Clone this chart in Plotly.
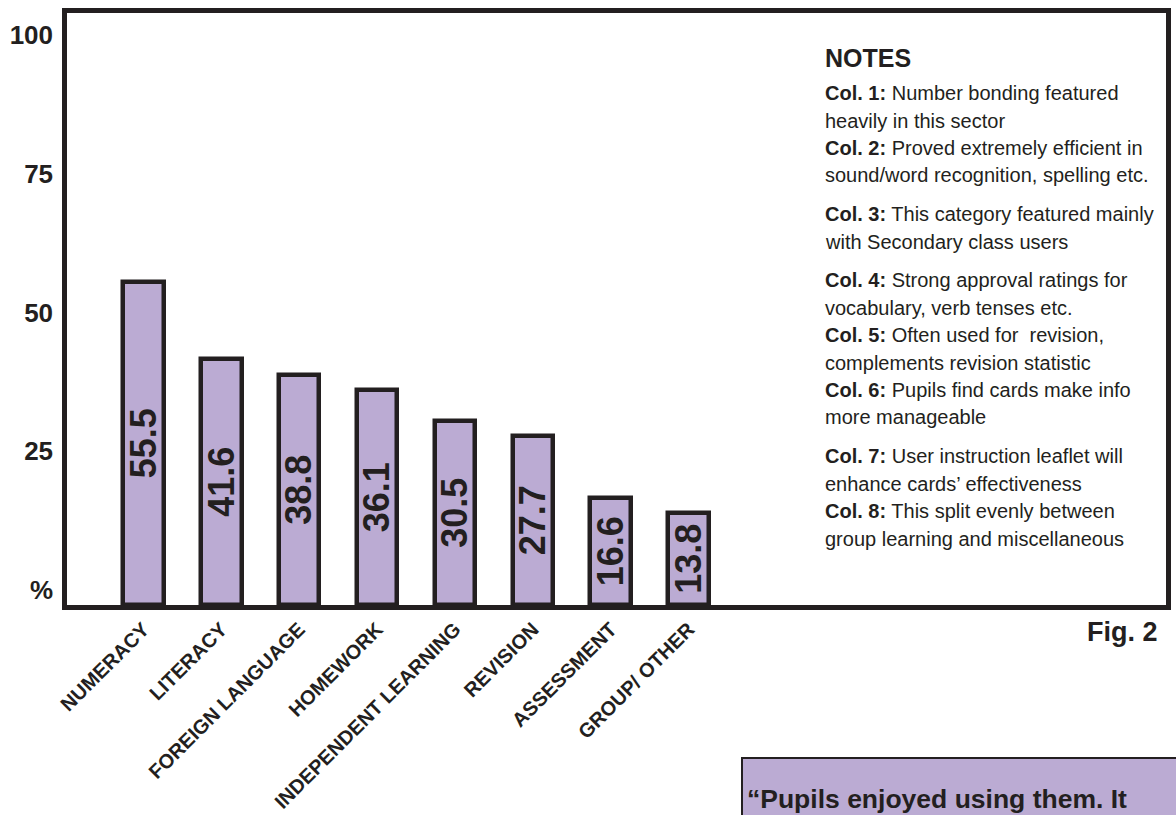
import plotly.graph_objects as go

# ---------------- data ----------------
categories = ["NUMERACY", "LITERACY", "FOREIGN LANGUAGE", "HOMEWORK",
              "INDEPENDENT LEARNING", "REVISION", "ASSESSMENT", "GROUP/ OTHER"]
values = [55.5, 41.6, 38.8, 36.1, 30.5, 27.7, 16.6, 13.8]
y_tickvals = [0, 25, 50, 75, 100]
y_ticktext = ["%", "25", "50", "75", "100"]

notes_title = "NOTES"
notes = [
    ("Col. 1:", "Number bonding featured", "heavily in this sector"),
    ("Col. 2:", "Proved extremely efficient in", "sound/word recognition, spelling etc."),
    ("Col. 3:", "This category featured mainly", "with Secondary class users"),
    ("Col. 4:", "Strong approval ratings for", "vocabulary, verb tenses etc."),
    ("Col. 5:", "Often used for  revision,", "complements revision statistic"),
    ("Col. 6:", "Pupils find cards make info", "more manageable"),
    ("Col. 7:", "User instruction leaflet will", "enhance cards\u2019 effectiveness"),
    ("Col. 8:", "This split evenly between", "group learning and miscellaneous"),
]
notes_extra_gap = [False, False, True, True, False, False, True, False]
fig_label = "Fig. 2"
quote_text = "\u201cPupils enjoyed using them. It"

# ---------------- style ----------------
W, H = 1176, 815
ML, MR, MT, MB = 67, 10, 13, 210
PW, PH = W - ML - MR, H - MT - MB
INK = "#231F20"
LAV = "#BBABD3"
FONT = "Liberation Sans, Arial, sans-serif"
AXIS_MIN, AXIS_MAX = -2.7, 104
X_RANGE = [-0.982, 13.13]


def pxx(p):
    return (p - ML) / PW


def pxy(p):
    return (H - MB - p) / PH


fig = go.Figure()
fig.add_bar(
    x=categories,
    y=[v - AXIS_MIN for v in values],
    base=AXIS_MIN,
    text=[f"{v:.1f}" for v in values],
    textposition="inside",
    insidetextanchor="middle",
    textangle=-90,
    textfont=dict(family=FONT, size=36, color=INK, weight="bold"),
    marker=dict(color=LAV, line=dict(color=INK, width=4.5)),
    width=0.52,
    hoverinfo="skip",
)

annotations = []
annotations.append(dict(
    x=pxx(823), y=pxy(58), xref="paper", yref="paper", xanchor="left", yanchor="middle",
    text=f"<b>{notes_title}</b>", showarrow=False,
    font=dict(family=FONT, size=25, color=INK)))

L, G = 27.5, 11
yline = 93
for i, (lab, l1, l2) in enumerate(notes):
    if notes_extra_gap[i]:
        yline += G
    annotations.append(dict(
        x=pxx(823), y=pxy(yline), xref="paper", yref="paper", xanchor="left", yanchor="middle",
        text=f"<b>{lab}</b> {l1}", showarrow=False,
        font=dict(family=FONT, size=20, color=INK)))
    annotations.append(dict(
        x=pxx(823), y=pxy(yline + L), xref="paper", yref="paper", xanchor="left", yanchor="middle",
        text=l2, showarrow=False,
        font=dict(family=FONT, size=20, color=INK)))
    yline += 2 * L

annotations.append(dict(
    x=pxx(1160), y=pxy(632), xref="paper", yref="paper", xanchor="right", yanchor="middle",
    text=f"<b>{fig_label}</b>", showarrow=False,
    font=dict(family=FONT, size=27, color=INK)))

annotations.append(dict(
    x=pxx(745), y=pxy(799), xref="paper", yref="paper", xanchor="left", yanchor="middle",
    text=f"<b>{quote_text}</b>", showarrow=False,
    font=dict(family=FONT, size=26.5, color=INK)))

shapes = [dict(
    type="rect", xref="paper", yref="paper",
    x0=pxx(742), x1=pxx(1190), y0=pxy(840), y1=pxy(758),
    fillcolor=LAV, line=dict(color=INK, width=2), layer="below")]

fig.update_layout(
    width=W, height=H,
    margin=dict(l=ML, r=MR, t=MT, b=MB, autoexpand=False),
    paper_bgcolor="white", plot_bgcolor="white",
    showlegend=False,
    bargap=0,
    uniformtext=dict(minsize=36, mode="show"),
    annotations=annotations,
    shapes=shapes,
    xaxis=dict(
        range=X_RANGE, showgrid=False, zeroline=False, automargin=False,
        showline=True, mirror=True, linewidth=4.5, linecolor=INK,
        tickangle=-45, ticks="",
        tickfont=dict(family=FONT, size=20, color=INK, weight="bold"),
        fixedrange=True,
    ),
    yaxis=dict(
        range=[AXIS_MIN, AXIS_MAX], showgrid=False, zeroline=False, automargin=False,
        showline=True, mirror=True, linewidth=4.5, linecolor=INK,
        tickvals=y_tickvals, ticktext=y_ticktext, ticks="",
        ticklabelstandoff=4,
        tickfont=dict(family=FONT, size=26, color=INK, weight="bold"),
        fixedrange=True,
    ),
)

fig.write_html("out.html", config={"displayModeBar": False})
